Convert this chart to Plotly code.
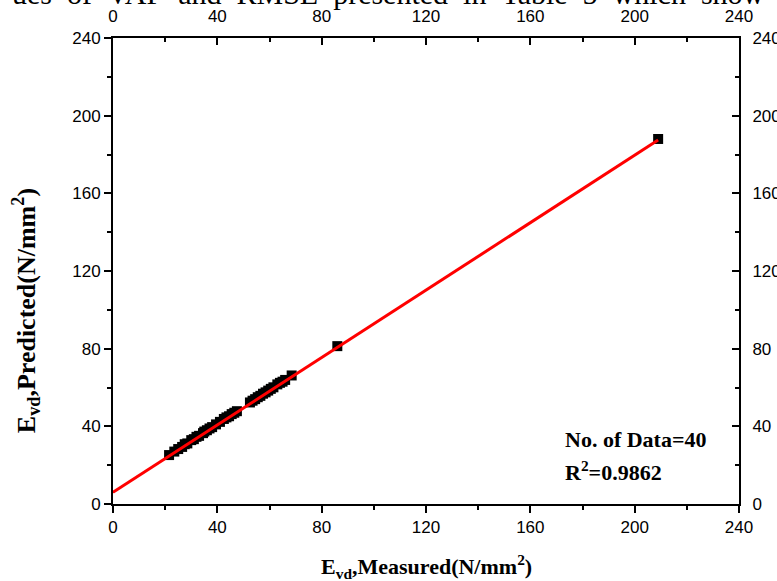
import plotly.graph_objects as go

# Data
measured = [21.5, 23.5, 25, 26.5, 27.5, 28.5, 30, 31, 32, 33, 34.5, 35, 36, 37, 38,
            39.5, 41, 42.5, 43.5, 44.5, 45.5, 46.5, 47.5, 52.5, 53.5, 54.5, 55.5,
            56.5, 57.5, 58.5, 59.5, 60.5, 61.5, 63, 64, 65, 66, 68.5, 86, 209]
predicted = [25.2, 27.0, 28.3, 29.4, 30.8, 31.2, 32.9, 33.4, 34.6, 35.1, 36.5, 37.3,
             38.0, 38.9, 39.6, 41.0, 42.3, 43.8, 44.6, 45.2, 46.3, 47.0, 47.8, 52.3,
             53.2, 54.0, 55.0, 55.7, 56.8, 57.5, 58.4, 59.3, 60.1, 61.6, 62.4, 63.0,
             63.9, 66.2, 81.3, 188.0]
fit_intercept = 6.0
fit_slope = 0.868
fit_x = [0, 209]
fit_y = [fit_intercept + fit_slope * v for v in fit_x]

tick_vals = [0, 40, 80, 120, 160, 200, 240]
n_data_text = "No. of Data=40"
r2_text = "R<sup>2</sup>=0.9862"
x_title = "E<sub>vd</sub>,Measured(N/mm<sup>2</sup>)"
y_title = "E<sub>vd</sub>,Predicted(N/mm<sup>2</sup>)"
header_words = ["ues", "of", "VAF", "and", "RMSE", "presented", "in", "Table", "5",
                "which", "show"]

serif = "Liberation Serif, Times New Roman, serif"
sans = "Liberation Sans, Arial, sans-serif"

fig = go.Figure()
fig.add_trace(go.Scatter(x=measured, y=predicted, mode="markers",
                         marker=dict(symbol="square", size=10, color="black"),
                         showlegend=False, cliponaxis=False))
fig.add_trace(go.Scatter(x=fit_x, y=fit_y, mode="lines",
                         line=dict(color="red", width=3), showlegend=False))
# invisible trace for the mirrored axes
fig.add_trace(go.Scatter(x=[0], y=[0], xaxis="x2", yaxis="y2", mode="markers",
                         marker=dict(opacity=0), showlegend=False, hoverinfo="skip"))

axis_common = dict(range=[0, 240], tickvals=tick_vals, showgrid=False, zeroline=False,
                   showline=True, linecolor="black", linewidth=2, automargin=False,
                   tickcolor="black", tickwidth=2, ticklen=7,
                   tickfont=dict(family=sans, size=17, color="black"))
minor_out = dict(dtick=20, ticklen=4, tickwidth=2, tickcolor="black", ticks="outside")
minor_in = dict(dtick=20, ticklen=4, tickwidth=2, tickcolor="black", ticks="inside")

fig.update_layout(
    width=777, height=581,
    margin=dict(l=113, r=38, t=38, b=77, autoexpand=False),
    paper_bgcolor="white", plot_bgcolor="white",
    xaxis=dict(**axis_common, ticks="outside", minor=minor_out, anchor="y"),
    yaxis=dict(**axis_common, ticks="outside", minor=minor_out, anchor="x"),
    xaxis2=dict(**axis_common, ticks="inside", minor=minor_in, overlaying="x",
                side="top", anchor="y", ticklabelstandoff=7),
    yaxis2=dict(**axis_common, ticks="inside", minor=minor_in, overlaying="y",
                side="right", anchor="x", ticklabelstandoff=8),
)

fig.add_annotation(text=n_data_text, x=172.5, y=33.2, xref="x", yref="y",
                   xanchor="left", yanchor="middle", showarrow=False,
                   font=dict(family=serif, size=22, color="black", weight="bold"))
fig.add_annotation(text=r2_text, x=172.5, y=17.0, xref="x", yref="y",
                   xanchor="left", yanchor="middle", showarrow=False,
                   font=dict(family=serif, size=22, color="black", weight="bold"))
fig.add_annotation(text=x_title, x=0.5, y=-0.135, xref="paper", yref="paper",
                   xanchor="center", yanchor="middle", showarrow=False,
                   font=dict(family=serif, size=22, color="black", weight="bold"))
fig.add_annotation(text=y_title, x=-0.139, y=0.416, xref="paper", yref="paper",
                   xanchor="center", yanchor="middle", showarrow=False, textangle=-90,
                   font=dict(family=serif, size=26, color="black", weight="bold"))
fig.add_annotation(text="&nbsp;&nbsp;".join(header_words), x=0.44, y=1.056,
                   xref="paper", yref="paper", xanchor="center", yanchor="bottom",
                   showarrow=False,
                   font=dict(family=serif, size=30, color="black"))

fig.write_html("out.html", config={"displayModeBar": False},
               post_script="document.body.style.margin='0';document.body.style.padding='0';")
